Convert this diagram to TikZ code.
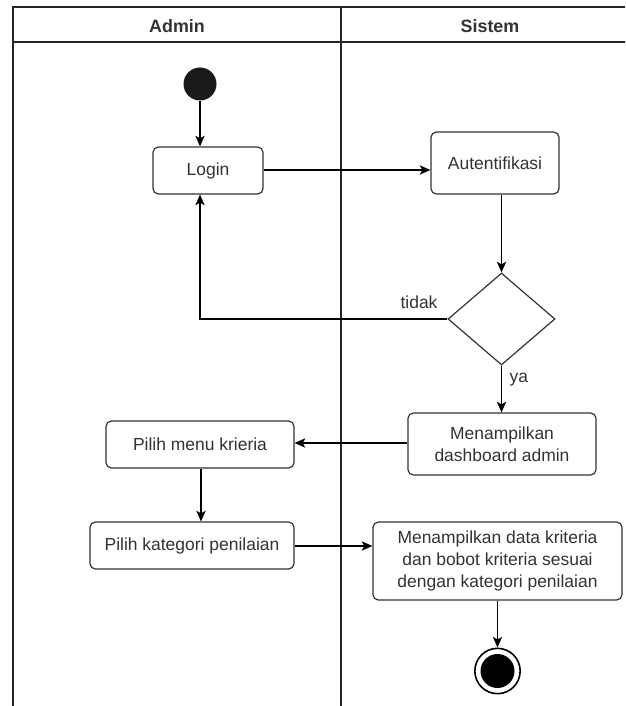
\documentclass[tikz,border=0pt]{standalone}
\usepackage{fontspec}
\setmainfont{Liberation Sans}
\usepackage{xcolor}
\usepackage{tikz}
\usetikzlibrary{shapes.geometric,arrows.meta}

\definecolor{linegray}{HTML}{333333}
\tikzset{
  activity/.style={draw=linegray, line width=0.9pt, rectangle, rounded corners=4pt,
    fill=white, align=center, inner sep=2pt, text=linegray},
  decision/.style={draw=linegray, line width=0.9pt, diamond, fill=white,
    minimum width=80.25pt, minimum height=69pt, inner sep=0pt},
  flow/.style={-{Stealth[length=8pt,width=7pt,inset=2pt]}, line width=0.9pt, draw=black},
  lane/.style={draw=black!85, line width=1.1pt}
}

\begin{document}
\begin{tikzpicture}[x=0.75pt, y=-0.75pt, font=\fontsize{13.1}{16.5}\selectfont]
  \clip (0,0) rectangle (625,706);
  \fill[white] (0,0) rectangle (625,706);

  % swimlanes
  \draw[lane] (13,720) -- (13,7) -- (640,7);
  \draw[lane] (13,42) -- (640,42);
  \draw[lane] (341,7) -- (341,720);
  \node[font=\bfseries\fontsize{13.4}{16}\selectfont, text=linegray] (admin) at (177,26) {Admin};
  \node[font=\bfseries\fontsize{13.4}{16}\selectfont, text=linegray] (sistem) at (490,26) {Sistem};

  % nodes
  \node[circle, fill=black!90, minimum size=24.75pt, inner sep=0pt] (start) at (200,84) {};
  \node[activity, minimum width=82.5pt, minimum height=35.25pt] (login) at (208,170.5) {Login};
  \node[activity, minimum width=96pt, minimum height=46.5pt] (auth) at (495,163) {Autentifikasi};
  \node[decision] (cek) at (501.5,319) {};
  \node[activity, minimum width=141pt, minimum height=46.5pt] (dash) at (502,444) {Menampilkan\\dashboard admin};
  \node[activity, minimum width=141pt, minimum height=35.25pt] (menu) at (200,444.5) {Pilih menu krieria};
  \node[activity, minimum width=153pt, minimum height=35.25pt] (kategori) at (192,545.5) {Pilih kategori penilaian};
  \node[activity, minimum width=186.75pt, minimum height=58.5pt] (tampil) at (497.5,561) {Menampilkan data kriteria\\dan bobot kriteria sesuai\\dengan kategori penilaian};
  \node[circle, draw=black, line width=1.2pt, fill=white, minimum size=34pt, inner sep=0pt] (end) at (497.5,671) {};
  \node[circle, fill=black, minimum size=25.5pt, inner sep=0pt] at (end) {};

  % connectors
  \draw[flow] (start) -- (start |- login.north);
  \draw[flow] (login.east |- 0,170) -- (auth.west |- 0,170);
  \draw[flow] (cek.north |- auth.south) -- (cek.north);
  \draw[flow] (cek.west) -| (start |- login.south);
  \node[text=linegray] (tidak) at (419,302) {tidak};
  \draw[flow] (cek.south) -- (cek.south |- dash.north);
  \node[text=linegray, anchor=west] (ya) at (505,380) {ya};
  \draw[flow] (dash.west |- 0,443) -- (menu.east |- 0,443);
  \draw[flow] (menu.south -| 201,0) -- (kategori.north -| 201,0);
  \draw[flow] (kategori.east |- 0,546) -- (tampil.west |- 0,546);
  \draw[flow] (tampil.south) -- (end.north);
\end{tikzpicture}
\end{document}
